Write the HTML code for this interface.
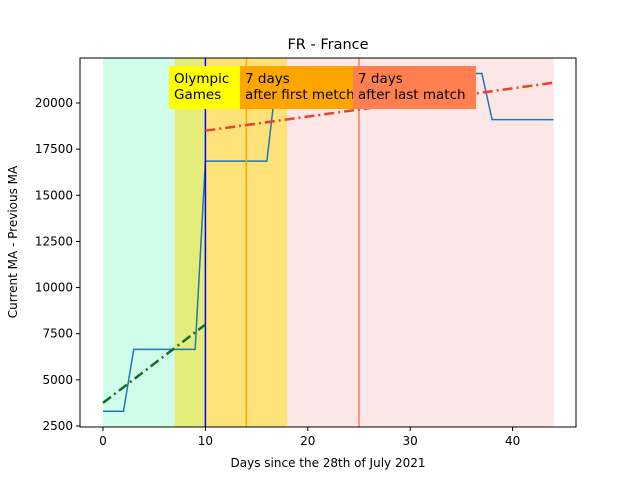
<!DOCTYPE html>
<html><head><meta charset="utf-8"><style>
body{margin:0;background:#fff;font-family:"Liberation Sans","DejaVu Sans",sans-serif;}
svg text{font-family:"DejaVu Sans","Liberation Sans",sans-serif;}
</style></head><body>
<svg id="c" width="640" height="480" xmlns="http://www.w3.org/2000/svg"></svg>
<script>
const days=[0,1,2,3,4,5,6,7,8,9,10,11,12,13,14,15,16,17,18,19,20,21,22,23,24,25,26,27,28,29,30,31,32,33,34,35,36,37,38,39,40,41,42,43,44];
const values=[3300,3300,3300,6650,6650,6650,6650,6650,6650,6650,16850,16850,16850,16850,16850,16850,16850,21600,21600,21600,21600,21600,21600,21600,21600,21600,21600,21600,21600,21600,21600,21600,21600,21600,21600,21600,21600,21600,19100,19100,19100,19100,19100,19100,19100];
const preTrend=[[0,3750],[10,8000]];
const postTrend=[[10,18500],[44,21100]];
const xTicks=[0,10,20,30,40];
const yTicks=[2500,5000,7500,10000,12500,15000,17500,20000];
const spans=[[0,7,"#d0fdea"],[7,10,"#e5ed7a"],[10,18,"#fde27a"],[18,44,"#fde6e6"]];
const vlines=[[10,"#0000ff"],[14,"#ffa500"],[25,"#ff7f50"]];
const X=d=>103+d*10.24;
const Y=v=>103-(v-20000)*0.018457;
const svg=document.getElementById('c');
const NS="http://www.w3.org/2000/svg";
function mk(t,a,p){const e=document.createElementNS(NS,t);for(const k in a)e.setAttribute(k,a[k]);(p||svg).appendChild(e);return e;}
spans.forEach(s=>{const r=mk('rect',{x:X(s[0]),y:58,width:X(s[1])-X(s[0]),height:369,fill:s[2]});

});
const pl=mk('polyline',{points:days.map((d,i)=>X(d)+','+Y(values[i])).join(' '),fill:'none',stroke:'#1f77b4','stroke-width':1.5});


vlines.forEach(v=>{const l=mk('line',{x1:X(v[0]),x2:X(v[0]),y1:58,y2:427,stroke:v[1],'stroke-width':1.5});

});
const g1=mk('line',{x1:X(preTrend[0][0]),y1:Y(preTrend[0][1]),x2:X(preTrend[1][0]),y2:Y(preTrend[1][1]),stroke:'#116b2b','stroke-width':2.5,'stroke-dasharray':'10,4,2,4'});


const r1=mk('line',{x1:X(postTrend[0][0]),y1:Y(postTrend[0][1]),x2:X(postTrend[1][0]),y2:Y(postTrend[1][1]),stroke:'#e8432a','stroke-width':2.5,'stroke-dasharray':'10,4,2,4'});


const boxes=[[169,240,"#ffff00",["Olympic","Games"]],[240,353,"#ffa500",["7 days","after first metch"]],[353,476,"#ff7f50",["7 days","after last match"]]];
boxes.forEach(b=>{const g=mk('g',{});


mk('rect',{x:b[0],y:66,width:b[1]-b[0],height:43,fill:b[2]},g);
const t=mk('text',{x:b[0]+5,y:83,'font-size':13.5,fill:'#000'},g);t.textContent=b[3][0];
const t2=mk('text',{x:b[0]+5,y:99,'font-size':13.5,fill:'#000'},g);t2.textContent=b[3][1];
});
mk('rect',{x:80,y:58,width:496,height:369,fill:'none',stroke:'#000','stroke-width':1});
xTicks.forEach(t=>{mk('line',{x1:X(t),x2:X(t),y1:427,y2:431,stroke:'#000'});
const e=mk('text',{x:X(t),y:445,'font-size':12,'text-anchor':'middle'});e.textContent=t;

});
yTicks.forEach(t=>{mk('line',{x1:76,x2:80,y1:Y(t),y2:Y(t),stroke:'#000'});
const e=mk('text',{x:73,y:Y(t)+4,'font-size':12,'text-anchor':'end'});e.textContent=t;

});
const tt=mk('text',{x:328,y:49,'font-size':14.5,'text-anchor':'middle'});tt.textContent="FR - France";


const xl=mk('text',{x:328,y:467,'font-size':12,'text-anchor':'middle'});xl.textContent="Days since the 28th of July 2021";


const yl=mk('text',{x:17,y:242,'font-size':12,'text-anchor':'middle',transform:'rotate(-90 17 242)'});yl.textContent="Current MA - Previous MA";


</script>
</body></html>
